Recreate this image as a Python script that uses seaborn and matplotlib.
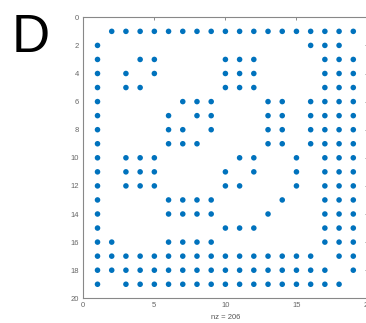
import matplotlib
matplotlib.use("Agg")
import matplotlib.pyplot as plt
import seaborn as sns
import pandas as pd

# Column indices of the nonzero entries in each row of the 19x19 pattern
row_01 = [2, 3, 4, 5, 6, 7, 8, 9, 10, 11, 12, 13, 14, 15, 16, 17, 18, 19]
row_02 = [1, 16, 17, 18]
row_03 = [1, 4, 5, 10, 11, 12, 17, 18, 19]
row_04 = [1, 3, 5, 10, 11, 12, 17, 18, 19]
row_05 = [1, 3, 4, 10, 11, 12, 17, 18, 19]
row_06 = [1, 7, 8, 9, 13, 14, 16, 17, 18, 19]
row_07 = [1, 6, 8, 9, 13, 14, 16, 17, 18, 19]
row_08 = [1, 6, 7, 9, 13, 14, 16, 17, 18, 19]
row_09 = [1, 6, 7, 8, 13, 14, 16, 17, 18, 19]
row_10 = [1, 3, 4, 5, 11, 12, 15, 17, 18, 19]
row_11 = [1, 3, 4, 5, 10, 12, 15, 17, 18, 19]
row_12 = [1, 3, 4, 5, 10, 11, 15, 17, 18, 19]
row_13 = [1, 6, 7, 8, 9, 14, 17, 18, 19]
row_14 = [1, 6, 7, 8, 9, 13, 17, 18, 19]
row_15 = [1, 10, 11, 12, 17, 18, 19]
row_16 = [1, 2, 6, 7, 8, 9, 17, 18, 19]
row_17 = [1, 2, 3, 4, 5, 6, 7, 8, 9, 10, 11, 12, 13, 14, 15, 16, 18, 19]
row_18 = [1, 2, 3, 4, 5, 6, 7, 8, 9, 10, 11, 12, 13, 14, 15, 16, 17, 19]
row_19 = [1, 3, 4, 5, 6, 7, 8, 9, 10, 11, 12, 13, 14, 15, 16, 17, 18]

x_ticks = [0, 5, 10, 15, 20]
y_ticks = [0, 2, 4, 6, 8, 10, 12, 14, 16, 18, 20]
panel_label = "D"

rows = [row_01, row_02, row_03, row_04, row_05, row_06, row_07, row_08,
        row_09, row_10, row_11, row_12, row_13, row_14, row_15, row_16,
        row_17, row_18, row_19]
records = [(c, i + 1) for i, cols in enumerate(rows) for c in cols]
df = pd.DataFrame(records, columns=["col", "row"])
nz = len(df)

sns.set_style("white")
plt.rcParams["font.family"] = ["Liberation Sans", "DejaVu Sans"]

fig = plt.figure(figsize=(3.66, 3.23), dpi=100)
ax = fig.add_axes([83.3 / 366, 1 - 298.3 / 323, (367.5 - 83.3) / 366, (298.3 - 17.3) / 323])

sns.scatterplot(data=df, x="col", y="row", ax=ax, color="#0072BD",
                s=16, edgecolor="none", linewidth=0, legend=False)

ax.set_xlim(0, 20)
ax.set_ylim(20, 0)
ax.set_xticks(x_ticks)
ax.set_yticks(y_ticks)
ax.tick_params(direction="in", length=2.5, width=0.6, color="#777777",
               labelsize=5.5, labelcolor="#666666", pad=3,
               top=True, right=True)
for sp in ax.spines.values():
    sp.set_visible(True)
    sp.set_color("#888888")
    sp.set_linewidth(0.8)
ax.set_xlabel(f"nz = {nz}", fontsize=5.5, color="#555555", labelpad=3)
ax.set_ylabel("")

fig.text(12 / 366, 1 - 52 / 323, panel_label, fontsize=38, color="black",
         ha="left", va="baseline")

fig.savefig("out.png", dpi=100)
